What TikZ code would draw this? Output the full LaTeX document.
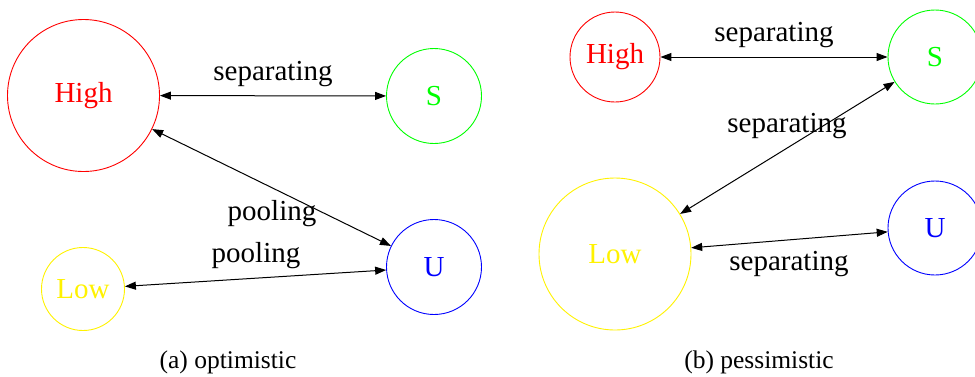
\documentclass[tikz,border=0pt]{standalone}
\usepackage{fontspec}
\setmainfont{Liberation Serif}
\usetikzlibrary{arrows.meta}
\tikzset{
  state/.style={circle,draw,line width=0.9pt,inner sep=0pt,font=\fontsize{29}{34}\selectfont},
  lbl/.style={inner sep=0pt,font=\fontsize{29}{34}\selectfont},
  captext/.style={inner sep=0pt,font=\fontsize{25.5}{30}\selectfont},
  link/.style={line width=1pt,{Triangle[length=11pt,width=8pt]}-{Triangle[length=11pt,width=8pt]}},
}
\begin{document}
\begin{tikzpicture}[x=1pt,y=-1pt]
\clip (0,0) rectangle (975,376);
% (a) optimistic
\node[state,red,minimum size=152pt] (aH) at (83.5,95.5) {High};
\node[state,green,minimum size=95pt] (aS) at (434,96) {S};
\node[state,blue,minimum size=95pt] (aU) at (434,267) {U};
\node[state,yellow,minimum size=83pt] (aL) at (83,289) {Low};
\draw[link] (aH) -- (aS);
\draw[link] (aH) -- (aU);
\draw[link] (aL) -- (aU);
\node[lbl] (aHS) at (273,74) {separating};
\node[lbl] (aHU) at (272,214) {pooling};
\node[lbl] (aLU) at (256,256) {pooling};
\node[captext] (acap) at (228,362) {(a) optimistic};
% (b) pessimistic
\node[state,red,minimum size=90pt] (bH) at (615,57) {High};
\node[state,green,minimum size=94pt] (bS) at (935,57) {S};
\node[state,yellow,minimum size=152pt] (bL) at (615,254) {Low};
\node[state,blue,minimum size=94pt] (bU) at (935,228) {U};
\draw[link] (bH) -- (bS);
\draw[link] (bL) -- (bS);
\draw[link] (bL) -- (bU);
\node[lbl] (bHS) at (774,35) {separating};
\node[lbl] (bLS) at (787,126) {separating};
\node[lbl] (bLU) at (789,264) {separating};
\node[captext] (bcap) at (759,362) {(b) pessimistic};
\end{tikzpicture}
\end{document}
